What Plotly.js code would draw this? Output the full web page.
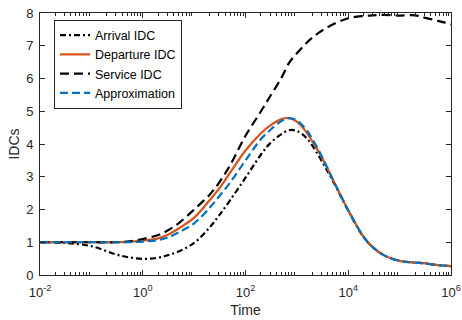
<!DOCTYPE html>
<html>
<head>
<meta charset="utf-8">
<script src="https://cdn.plot.ly/plotly-3.0.1.min.js"></script>
<style>html,body{margin:0;padding:0;background:#fff;}#chart{width:462px;height:320px;}</style>
</head>
<body>
<div id="chart"></div>
<script>
// Time grid shared by all series
const time = [0.01, 0.03, 0.1, 0.3, 0.5, 1, 2, 3, 5, 10, 20, 30, 50, 100, 200, 300, 500, 700,
              1000, 1500, 2000, 3000, 5000, 1e4, 2e4, 3e4, 5e4, 1e5, 2e5, 3e5, 5e5, 7e5, 1e6];

const arrivalIDC   = [1.00, 0.98, 0.88, 0.63, 0.55, 0.49, 0.53, 0.60, 0.72, 0.98, 1.45, 1.80, 2.28, 2.97, 3.68, 4.02, 4.30, 4.42,
                      4.40, 4.20, 3.95, 3.50, 2.88, 1.96, 1.15, 0.85, 0.60, 0.43, 0.38, 0.36, 0.31, 0.29, 0.27];
const departureIDC = [1.00, 1.00, 1.00, 1.00, 1.01, 1.05, 1.12, 1.22, 1.42, 1.75, 2.28, 2.62, 3.12, 3.80, 4.33, 4.56, 4.76, 4.79,
                      4.68, 4.38, 4.08, 3.62, 2.92, 1.98, 1.16, 0.85, 0.60, 0.43, 0.38, 0.36, 0.31, 0.29, 0.27];
const serviceIDC   = [1.00, 1.00, 1.00, 1.00, 1.02, 1.10, 1.22, 1.35, 1.58, 2.00, 2.45, 2.80, 3.35, 4.25, 5.00, 5.45, 6.02, 6.47,
                      6.77, 7.07, 7.25, 7.45, 7.65, 7.84, 7.91, 7.93, 7.94, 7.92, 7.93, 7.86, 7.78, 7.72, 7.65];
const approxIDC    = [1.00, 1.00, 1.00, 1.00, 1.00, 1.02, 1.07, 1.14, 1.30, 1.58, 2.05, 2.38, 2.82, 3.50, 4.15, 4.42, 4.70, 4.79,
                      4.72, 4.45, 4.15, 3.65, 2.92, 1.98, 1.16, 0.85, 0.60, 0.43, 0.38, 0.36, 0.31, 0.29, 0.27];

const seriesNames = ['Arrival IDC', 'Departure IDC', 'Service IDC', 'Approximation'];
const xTickVals = [0.01, 1, 100, 1e4, 1e6];
const xTickText = ['10<sup>-2</sup>', '10<sup>0</sup>', '10<sup>2</sup>', '10<sup>4</sup>', '10<sup>6</sup>'];
const yTickVals = [0, 1, 2, 3, 4, 5, 6, 7, 8];

const minorVals = [];
for (let e = -2; e < 6; e++) for (let d = 2; d <= 9; d++) minorVals.push(d * Math.pow(10, e));

const axColor = '#262626';
const family = '"Liberation Sans", Arial, Helvetica, sans-serif';
const tickFont = {family: family, size: 13, color: axColor};
const titleFont = {family: family, size: 14, color: axColor};

const traces = [
  {x: time, y: arrivalIDC, name: seriesNames[0], mode: 'lines',
   line: {color: '#000000', width: 2.2, dash: '6px,3px,2px,3px', shape: 'spline'}},
  {x: time, y: departureIDC, name: seriesNames[1], mode: 'lines',
   line: {color: '#D95319', width: 2.2, shape: 'spline'}},
  {x: time, y: serviceIDC, name: seriesNames[2], mode: 'lines',
   line: {color: '#000000', width: 2.2, dash: '9px,5px', shape: 'spline'}},
  {x: time, y: approxIDC, name: seriesNames[3], mode: 'lines',
   line: {color: '#0072BD', width: 2.2, dash: '8px,4px', shape: 'spline'}}
];

const layout = {
  width: 462, height: 320,
  margin: {l: 40, r: 11, t: 13, b: 45},
  paper_bgcolor: '#ffffff', plot_bgcolor: '#ffffff',
  font: tickFont,
  showlegend: true,
  legend: {x: 0.034, y: 0.975, xanchor: 'left', yanchor: 'top',
           bgcolor: '#ffffff', bordercolor: axColor, borderwidth: 1,
           font: {family: family, size: 12.5, color: '#000'}, tracegroupgap: 0},
  xaxis: {type: 'log', range: [-2, 6], tickmode: 'array', tickvals: xTickVals, ticktext: xTickText,
          ticks: 'inside', ticklen: 5, tickcolor: axColor, showline: true, linecolor: axColor, linewidth: 1,
          mirror: 'ticks', showgrid: false, zeroline: false, tickfont: tickFont, ticklabelstandoff: 5,
          minor: {tickmode: 'array', tickvals: minorVals, ticks: 'inside', ticklen: 3, tickcolor: axColor, showgrid: false},
          title: {text: 'Time', font: titleFont, standoff: 6}},
  yaxis: {range: [0, 8], tickmode: 'array', tickvals: yTickVals,
          ticks: 'inside', ticklen: 5, tickcolor: axColor, showline: true, linecolor: axColor, linewidth: 1,
          mirror: 'ticks', showgrid: false, zeroline: false, tickfont: tickFont, ticklabelstandoff: 3,
          title: {text: 'IDCs', font: titleFont, standoff: 3}}
};

Plotly.newPlot('chart', traces, layout, {displayModeBar: false, staticPlot: true});
</script>
</body>
</html>
